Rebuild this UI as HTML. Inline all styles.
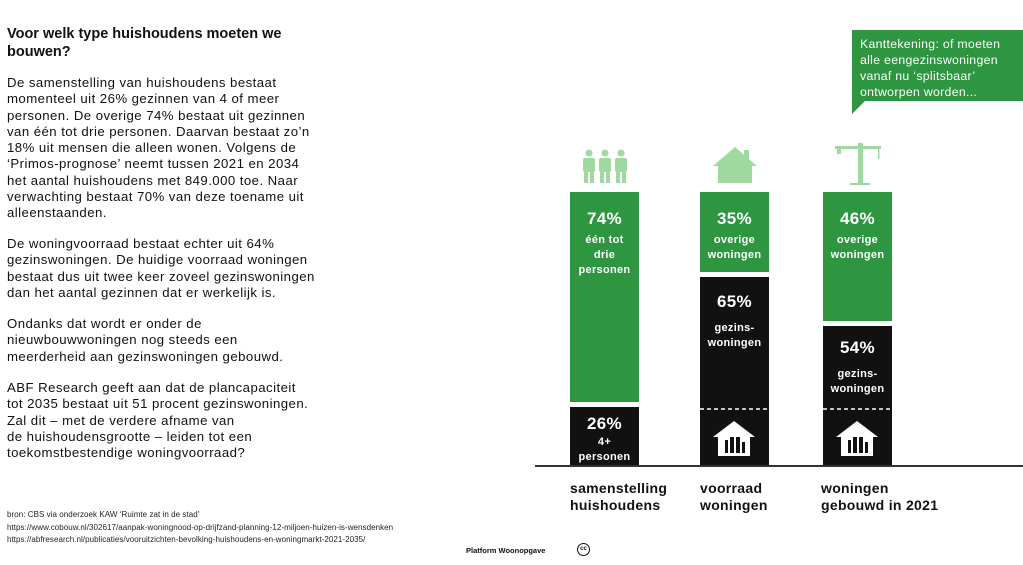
<!DOCTYPE html>
<html><head><meta charset="utf-8"><style>
body{margin:0;width:1023px;height:565px;background:#fff;position:relative;overflow:hidden;font-family:"Liberation Sans",sans-serif;color:#111}
.a{position:absolute}
.t{left:7px;top:25px;font-size:14.5px;font-weight:bold;line-height:18px;width:300px}
.p{left:7px;font-size:13.2px;line-height:16.3px;white-space:nowrap;letter-spacing:0.45px}
.bar{position:absolute;color:#fff;font-weight:bold;text-align:center;font-size:11px;line-height:15px;letter-spacing:0.3px}
.big{font-size:17px;line-height:22px;display:block;margin-bottom:3px}
.lab{position:absolute;top:480px;font-weight:bold;font-size:14px;line-height:17px;letter-spacing:0.3px}
</style></head><body>
<div class="a t">Voor welk type huishoudens moeten we bouwen?</div>
<div class="a p" style="top:75px">De samenstelling van huishoudens bestaat<br>momenteel uit 26% gezinnen van 4 of meer<br>personen. De overige 74% bestaat uit gezinnen<br>van één tot drie personen. Daarvan bestaat zo’n<br>18% uit mensen die alleen wonen. Volgens de<br>‘Primos-prognose’ neemt tussen 2021 en 2034<br>het aantal huishoudens met 849.000 toe. Naar<br>verwachting bestaat 70% van deze toename uit<br>alleenstaanden.</div>
<div class="a p" style="top:236px">De woningvoorraad bestaat echter uit 64%<br>gezinswoningen. De huidige voorraad woningen<br>bestaat dus uit twee keer zoveel gezinswoningen<br>dan het aantal gezinnen dat er werkelijk is.</div>
<div class="a p" style="top:316px">Ondanks dat wordt er onder de<br>nieuwbouwwoningen nog steeds een<br>meerderheid aan gezinswoningen gebouwd.</div>
<div class="a p" style="top:380px">ABF Research geeft aan dat de plancapaciteit<br>tot 2035 bestaat uit 51 procent gezinswoningen.<br>Zal dit – met de verdere afname van<br>de huishoudensgrootte – leiden tot een<br>toekomstbestendige woningvoorraad?</div>
<div class="a" style="left:7px;top:509px;font-size:8px;line-height:12.5px;color:#222;letter-spacing:0.05px">bron: CBS via onderzoek KAW ‘Ruimte zat in de stad’<br>https://www.cobouw.nl/302617/aanpak-woningnood-op-drijfzand-planning-12-miljoen-huizen-is-wensdenken<br>https://abfresearch.nl/publicaties/vooruitzichten-bevolking-huishoudens-en-woningmarkt-2021-2035/</div>
<div class="a" style="left:466px;top:546px;font-size:7.5px;font-weight:bold">Platform Woonopgave</div>
<div class="a" style="left:577px;top:543px;width:11px;height:11px;border:1.5px solid #111;border-radius:50%;font-size:6px;font-weight:bold;text-align:center;line-height:11px">cc</div>

<div class="a" style="left:852px;top:30px;width:171px;height:71px;background:#2e9640;color:#fff;font-size:12.3px;line-height:16px;padding:6px 0 0 8px;box-sizing:border-box;white-space:nowrap;letter-spacing:0.3px">Kanttekening: of moeten<br>alle eengezinswoningen<br>vanaf nu ‘splitsbaar’<br>ontworpen worden...</div>
<div class="a" style="left:852px;top:100px;width:0;height:0;border-top:14px solid #2e9640;border-right:14px solid transparent"></div>

<svg class="a" style="left:0;top:0" width="1023" height="565">
<g fill="#9fd8a0">
<circle cx="589" cy="153" r="3.5"/><circle cx="605" cy="153" r="3.5"/><circle cx="621" cy="153" r="3.5"/>
<rect x="583" y="158" width="12" height="14" rx="2"/><rect x="599" y="158" width="12" height="14" rx="2"/><rect x="615" y="158" width="12" height="14" rx="2"/>
<rect x="584" y="170" width="4" height="13"/><rect x="590" y="170" width="4" height="13"/><rect x="600" y="170" width="4" height="13"/><rect x="606" y="170" width="4" height="13"/><rect x="616" y="170" width="4" height="13"/><rect x="622" y="170" width="4" height="13"/>
<polygon points="713,166 735,147 757,166"/><rect x="718" y="164" width="34" height="19"/><rect x="744" y="150" width="5" height="10"/>
<rect x="858" y="143" width="5" height="40"/><rect x="835" y="146" width="46" height="3"/><rect x="850" y="183" width="20" height="2"/><rect x="837" y="149" width="4" height="5"/><rect x="878" y="149" width="1.5" height="10"/>
</g>
<rect x="570" y="192" width="69" height="210" fill="#2e9640"/>
<rect x="570" y="407" width="69" height="58" fill="#111"/>
<rect x="700" y="192" width="69" height="80" fill="#2e9640"/>
<rect x="700" y="277" width="69" height="188" fill="#111"/>
<rect x="823" y="192" width="69" height="129" fill="#2e9640"/>
<rect x="823" y="326" width="69" height="139" fill="#111"/>
<line x1="700" y1="409" x2="769" y2="409" stroke="#fff" stroke-width="1.5" stroke-dasharray="4,3"/>
<line x1="823" y1="409" x2="892" y2="409" stroke="#fff" stroke-width="1.5" stroke-dasharray="4,3"/>
<g fill="#fff"><polygon points="713,437 734,421 755,437"/><rect x="718" y="436" width="32" height="20"/>
<polygon points="836,437 857,421 878,437"/><rect x="841" y="436" width="32" height="20"/></g>
<g fill="#111"><rect x="725" y="440" width="3" height="13"/><rect x="730" y="437" width="4" height="16"/><rect x="736" y="437" width="4" height="16"/><rect x="742" y="442" width="3" height="11"/>
<rect x="848" y="440" width="3" height="13"/><rect x="853" y="437" width="4" height="16"/><rect x="859" y="437" width="4" height="16"/><rect x="865" y="442" width="3" height="11"/></g>
<line x1="535" y1="466" x2="1023" y2="466" stroke="#333" stroke-width="2"/>
</svg>
<div class="bar" style="left:570px;top:208px;width:69px"><span class="big">74%</span>één tot<br>drie<br>personen</div>
<div class="bar" style="left:570px;top:413px;width:69px"><span class="big" style="margin-bottom:0">26%</span>4+<br>personen</div>
<div class="bar" style="left:700px;top:208px;width:69px"><span class="big">35%</span>overige<br>woningen</div>
<div class="bar" style="left:700px;top:291px;width:69px"><span class="big" style="margin-bottom:8px">65%</span>gezins-<br>woningen</div>
<div class="bar" style="left:823px;top:208px;width:69px"><span class="big">46%</span>overige<br>woningen</div>
<div class="bar" style="left:823px;top:337px;width:69px"><span class="big" style="margin-bottom:8px">54%</span>gezins-<br>woningen</div>
<div class="lab" style="left:570px">samenstelling<br>huishoudens</div>
<div class="lab" style="left:700px">voorraad<br>woningen</div>
<div class="lab" style="left:821px">woningen<br>gebouwd in 2021</div>
</body></html>
